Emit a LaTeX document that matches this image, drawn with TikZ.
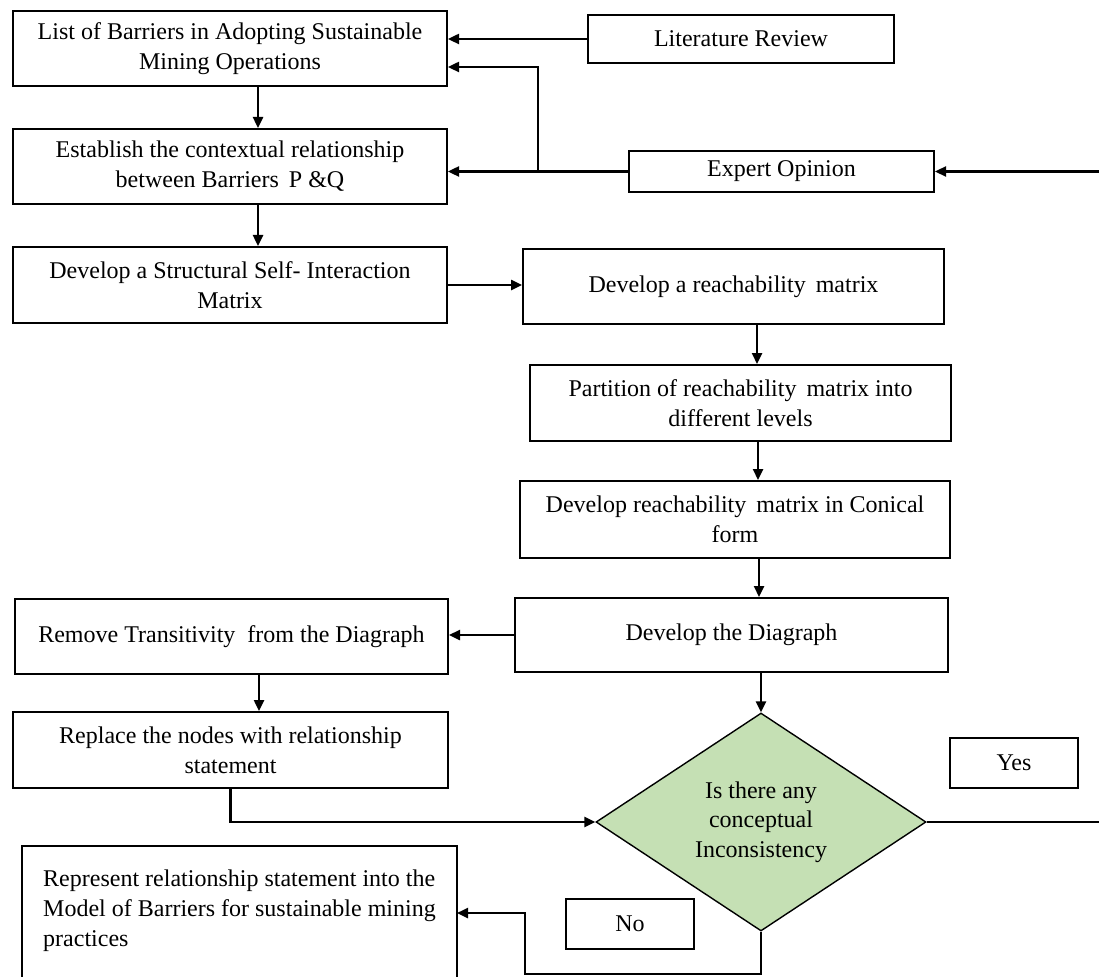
\documentclass[tikz,border=0pt]{standalone}
\usepackage{fontspec}
\setmainfont{Liberation Serif}
\usetikzlibrary{arrows.meta,shapes.geometric,calc}
\definecolor{diafill}{RGB}{197,224,180}
\begin{document}
\begin{tikzpicture}[x=1pt,y=-1pt,
  box/.style={draw,line width=2pt,rectangle,inner sep=0pt,align=center,font=\fontsize{24}{30}\selectfont},
  conn/.style={line width=2.4pt,-{Triangle[length=11pt,width=10pt]}},
  plain/.style={line width=2.2pt},
  dia/.style={diamond,draw,line width=1.4pt,fill=diafill,aspect=1.5,inner sep=0pt,
    minimum width=330pt,minimum height=218pt,align=center,font=\fontsize{24}{29.5}\selectfont}]
\useasboundingbox (0,0) rectangle (1099,976);
\fill[white] (0,0) rectangle (1099,976);
% left column
\node[box,minimum width=434pt,minimum height=75pt] (b1) at (230,48.5) {List of Barriers in Adopting Sustainable\\Mining Operations};
\node[box,minimum width=434pt,minimum height=75pt] (b3) at (230,166.5) {Establish the contextual relationship\\between Barriers\, P \&Q};
\node[box,minimum width=434pt,minimum height=76pt] (b5) at (230,285) {Develop a Structural Self- Interaction\\Matrix};
\node[box,minimum width=433pt,minimum height=75pt] (b10) at (231.5,636.5) {Remove Transitivity\ \ from the Diagraph};
\node[box,minimum width=435pt,minimum height=76pt] (b11) at (230.5,750) {Replace the nodes with relationship\\statement};
\node[box,draw=none,minimum width=433pt,minimum height=128pt,align=left] (b15) at (239.5,911) {Represent relationship statement into the\\Model of Barriers for sustainable mining\\practices};
\draw[line width=2pt] ([yshift=-14pt]b15.south west) -- (b15.north west) -- (b15.north east) -- ([yshift=-14pt]b15.south east);
% right column
\node[box,minimum width=306pt,minimum height=48pt] (lit) at (741,39) {Literature Review};
\node[box,minimum width=305pt,minimum height=41pt] (exp) at (781.5,171.5) {Expert Opinion};
\node[box,minimum width=421pt,minimum height=75pt] (b6) at (733.5,286.5) {Develop a reachability\, matrix};
\node[box,minimum width=421pt,minimum height=76pt] (b7) at (740.5,403) {Partition of reachability\, matrix into\\different levels};
\node[box,minimum width=430pt,minimum height=77pt] (b8) at (735,519.5) {Develop reachability\, matrix in Conical\\form};
\node[box,minimum width=433pt,minimum height=74pt] (b9) at (731.5,635) {Develop the Diagraph};
\node[dia] (dia) at (761,822) {Is there any\\conceptual\\Inconsistency};
\node[box,minimum width=128pt,minimum height=50pt] (yes) at (1014,763) {Yes};
\node[box,minimum width=128pt,minimum height=50pt] (no) at (630,924) {No};
% connectors
\coordinate (j) at (538,171.5);
\coordinate (j1) at (538,67);
\coordinate (rin) at (1099,171.5);
\coordinate (yesend) at (1099,822);
\coordinate (xa) at (757,0);
\coordinate (xb) at (758,0);
\coordinate (xc) at (759,0);
\coordinate (n1) at (761,974);
\coordinate (n2) at (525,974);
\coordinate (n3) at (525,913);
\draw[conn] (lit.west) -- (lit.west -| b1.east);
\draw[conn] (exp.west) -- (exp.west -| b3.east);
\draw[conn] (j) -- (j1) -- (j1 -| b1.east);
\draw[conn] (rin) -- (exp.east);
\draw[conn] ([xshift=28pt]b1.south) -- ([xshift=28pt]b3.north);
\draw[conn] ([xshift=28pt]b3.south) -- ([xshift=28pt]b5.north);
\draw[conn] (b5.east) -- (b5.east -| b6.west);
\draw[conn] (b6.south -| xa) -- (b7.north -| xa);
\draw[conn] (b7.south -| xb) -- (b8.north -| xb);
\draw[conn] (b8.south -| xc) -- (b9.north -| xc);
\draw[conn] (b9.south -| dia.north) -- (dia.north);
\draw[conn] (b9.west) -- (b9.west -| b10.east);
\draw[conn] ([xshift=27.5pt]b10.south) -- ([xshift=27.5pt]b10.south |- b11.north);
\draw[conn] (b11.south) |- (dia.west);
\draw[plain] (dia.east) -- (yesend);
\draw[conn] (dia.south) -- (n1) -- (n2) -- (n3) -- (n3 -| b15.east);
\end{tikzpicture}
\end{document}
